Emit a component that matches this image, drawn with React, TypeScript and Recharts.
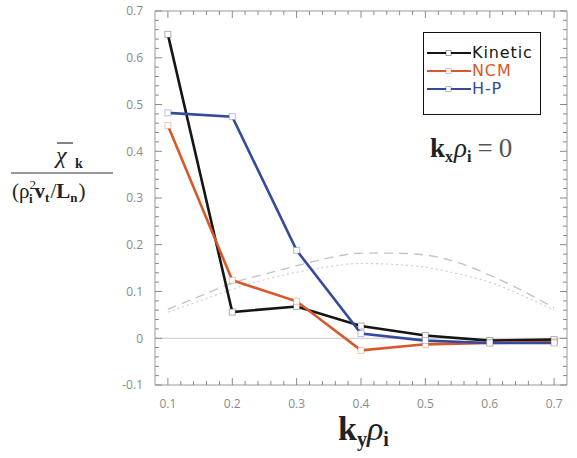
import React from 'react'
import { LineChart, Line, XAxis, YAxis, ReferenceLine } from 'recharts'

// k_y rho_i grid (half steps carry the smooth grey curves only)
const kyRho = [0.1, 0.15, 0.2, 0.25, 0.3, 0.35, 0.4, 0.45, 0.5, 0.55, 0.6, 0.65, 0.7]
const kinetic = [0.65, null, 0.056, null, 0.068, null, 0.026, null, 0.006, null, -0.005, null, -0.003]
const ncm = [0.455, null, 0.124, null, 0.079, null, -0.026, null, -0.013, null, -0.01, null, -0.008]
const hp = [0.482, null, 0.474, null, 0.188, null, 0.01, null, -0.005, null, -0.01, null, -0.01]
const dashedRef = [0.062, 0.09, 0.118, 0.137, 0.155, 0.172, 0.182, 0.182, 0.178, 0.162, 0.135, 0.102, 0.065]
const dottedRef = [0.056, 0.08, 0.105, 0.125, 0.141, 0.153, 0.16, 0.158, 0.152, 0.138, 0.12, 0.092, 0.06]

const xMajor = [0.1, 0.2, 0.3, 0.4, 0.5, 0.6, 0.7]
const xMinor = [0.12, 0.14, 0.16, 0.18, 0.22, 0.24, 0.26, 0.28, 0.32, 0.34, 0.36, 0.38, 0.42, 0.44, 0.46, 0.48, 0.52, 0.54, 0.56, 0.58, 0.62, 0.64, 0.66, 0.68]
const yMajor = [-0.1, 0, 0.1, 0.2, 0.3, 0.4, 0.5, 0.6, 0.7]
const yMinor = [-0.08, -0.06, -0.04, -0.02, 0.02, 0.04, 0.06, 0.08, 0.12, 0.14, 0.16, 0.18, 0.22, 0.24, 0.26, 0.28, 0.32, 0.34, 0.36, 0.38, 0.42, 0.44, 0.46, 0.48, 0.52, 0.54, 0.56, 0.58, 0.62, 0.64, 0.66, 0.68]

const data = kyRho.map((x, i) => ({
  x,
  kinetic: kinetic[i],
  ncm: ncm[i],
  hp: hp[i],
  dashed: dashedRef[i],
  dotted: dottedRef[i],
}))

const series = [
  { key: 'kinetic', name: 'Kinetic', color: '#151515' },
  { key: 'ncm', name: 'NCM', color: '#d8582c' },
  { key: 'hp', name: 'H-P', color: '#344a9c' },
]

const X_MIN = 0.08
const X_MAX = 0.72
const Y_MIN = -0.1
const Y_MAX = 0.7
// plot box, follows from the chart margins and axis sizes below
const MARGIN = { top: 11, right: 10, bottom: 43, left: 115 }
const Y_AXIS_W = 40
const X_AXIS_H = 30
const BOX_L = MARGIN.left + Y_AXIS_W
const BOX_R = 577 - MARGIN.right
const BOX_T = MARGIN.top
const BOX_B = 458 - MARGIN.bottom - X_AXIS_H
const px = (v: number) => BOX_L + ((v - X_MIN) / (X_MAX - X_MIN)) * (BOX_R - BOX_L)
const py = (v: number) => BOX_B - ((v - Y_MIN) / (Y_MAX - Y_MIN)) * (BOX_B - BOX_T)

const frame = '#999'
const tickCol = '#8a8a8a'
const serif = '"Liberation Serif", "DejaVu Serif", serif'

// inward tick marks on all four sides of the frame
const tickPath = () => {
  let d = ''
  const xs = (vals: number[], len: number) => vals.forEach((v) => {
    const x = px(v).toFixed(1)
    d += `M${x},${BOX_B}v${-len}M${x},${BOX_T}v${len}`
  })
  const ys = (vals: number[], len: number) => vals.forEach((v) => {
    const y = py(v).toFixed(1)
    d += `M${BOX_L},${y}h${len}M${BOX_R},${y}h${-len}`
  })
  xs(xMajor, 7); xs(xMinor, 4); ys(yMajor, 7); ys(yMinor, 4)
  return d
}

const SquareDot = (props: any) => {
  const { cx, cy, index, stroke } = props
  if (cx == null || cy == null || props.value == null) return <g key={index} />
  return <rect key={index} x={cx - 3} y={cy - 3} width={6} height={6} fill="#fff" stroke={stroke} strokeOpacity={0.35} strokeWidth={1} />
}

function LegendBox() {
  return (
    <div style={{ position: 'absolute', left: 423, top: 32, width: 116, height: 81, border: '1.5px solid #111', background: '#fff', fontFamily: '"DejaVu Sans", sans-serif', fontSize: 16, letterSpacing: 0.9 }}>
      {series.map((s, i) => (
        <div key={s.key} style={{ position: 'absolute', left: 2, top: 12 + i * 18, height: 16, lineHeight: '16px', display: 'flex', alignItems: 'center', color: s.color, whiteSpace: 'nowrap' }}>
          <svg width={46} height={16}>
            <line x1={1} x2={45} y1={8} y2={8} stroke={s.color} strokeWidth={2} />
            <rect x={20} y={5.5} width={5} height={5} fill="#fff" stroke={s.color} strokeOpacity={0.4} />
          </svg>
          <span>{s.name}</span>
        </div>
      ))}
    </div>
  )
}

export default function App() {
  return (
    <div style={{ position: 'absolute', left: 0, top: 0, width: 577, height: 458, background: '#fff' }}>
      <LineChart width={577} height={458} data={data} margin={MARGIN}>
        <XAxis xAxisId="x" type="number" dataKey="x" domain={[X_MIN, X_MAX]} ticks={xMajor} allowDataOverflow interval={0}
          height={X_AXIS_H} tickLine={false} tickMargin={8} axisLine={{ stroke: frame }}
          tick={{ fill: tickCol, fontSize: 12, fontFamily: 'Open Sans, sans-serif' }} tickFormatter={(v: number) => v.toFixed(1)} />
        <YAxis yAxisId="y" type="number" domain={[Y_MIN, Y_MAX]} ticks={yMajor} allowDataOverflow interval={0}
          width={Y_AXIS_W} tickLine={false} tickMargin={6} axisLine={{ stroke: frame }}
          tick={{ fill: tickCol, fontSize: 12, fontFamily: 'Open Sans, sans-serif' }} tickFormatter={(v: number) => (Math.abs(v) < 1e-9 ? '0' : v.toFixed(1))} />

        {/* top and right edges of the frame, zero line */}
        <ReferenceLine xAxisId="x" yAxisId="y" y={Y_MAX} stroke={frame} />
        <ReferenceLine xAxisId="x" yAxisId="y" x={X_MAX} stroke={frame} />
        <ReferenceLine xAxisId="x" yAxisId="y" y={0} stroke="#c8c8c8" strokeWidth={1} />

        <Line xAxisId="x" yAxisId="y" dataKey="dashed" type="monotone" stroke="#c4c4c4" strokeWidth={1.4} strokeDasharray="9 6" dot={false} isAnimationActive={false} />
        <Line xAxisId="x" yAxisId="y" dataKey="dotted" type="monotone" stroke="#cfcfcf" strokeWidth={1.2} strokeDasharray="2 3" dot={false} isAnimationActive={false} />
        {series.map((s) => (
          <Line key={s.key} xAxisId="x" yAxisId="y" dataKey={s.key} type="linear" connectNulls stroke={s.color}
            strokeWidth={2.6} dot={<SquareDot />} activeDot={false} isAnimationActive={false} />
        ))}
      </LineChart>

      <svg width={577} height={458} style={{ position: 'absolute', left: 0, top: 0, pointerEvents: 'none' }}>
        <path d={tickPath()} stroke="#8a8a8a" strokeWidth={1} fill="none" />
      </svg>

      <LegendBox />

      <svg width={577} height={458} style={{ position: 'absolute', left: 0, top: 0, pointerEvents: 'none' }}>
        {/* y-axis label: chi-bar_k / (rho_i^2 v_t / L_n) */}
        <line x1={57} x2={73} y1={143} y2={143} stroke="#333" strokeWidth={1.2} />
        <text x={56} y={163} fontFamily={serif} fontSize={24} fontStyle="italic" fill="#222">χ</text>
        <text x={75} y={168} fontFamily={serif} fontSize={14} fontWeight="bold" fill="#222">k</text>
        <line x1={11} x2={113} y1={173} y2={173} stroke="#333" strokeWidth={1.2} />
        <text x={12} y={198} fontFamily={serif} fontSize={21} fill="#222">
          (ρ<tspan fontSize={13} dy={-9}>2</tspan><tspan fontSize={13} fontWeight="bold" dx={-7} dy={14}>i</tspan>
          <tspan dy={-5} dx={2} fontWeight="bold">v</tspan><tspan fontSize={13} fontWeight="bold" dy={4}>t</tspan>
          <tspan dy={-4} dx={1}>/</tspan><tspan fontWeight="bold">L</tspan><tspan fontSize={13} fontWeight="bold" dy={4}>n</tspan>
          <tspan dy={-4} dx={1}>)</tspan>
        </text>

        {/* k_x rho_i = 0 */}
        <text x={430} y={157} fontFamily={serif} fontSize={27} fill="#222">
          <tspan fontWeight="bold">k</tspan><tspan fontSize={16} fontWeight="bold" dy={5}>x</tspan>
          <tspan dy={-5} dx={1} fontStyle="italic">ρ</tspan><tspan fontSize={16} fontWeight="bold" dy={5}>i</tspan>
          <tspan dy={-5} dx={6} fill="#555">=</tspan><tspan dx={6} fill="#555">0</tspan>
        </text>

        {/* x-axis label: k_y rho_i */}
        <text x={338} y={440} fontFamily={serif} fontSize={34} fill="#222">
          <tspan fontWeight="bold">k</tspan><tspan fontSize={20} fontWeight="bold" dy={6}>y</tspan>
          <tspan dy={-6} fontStyle="italic">ρ</tspan><tspan fontSize={20} fontWeight="bold" dy={6}>i</tspan>
        </text>
      </svg>
    </div>
  )
}
